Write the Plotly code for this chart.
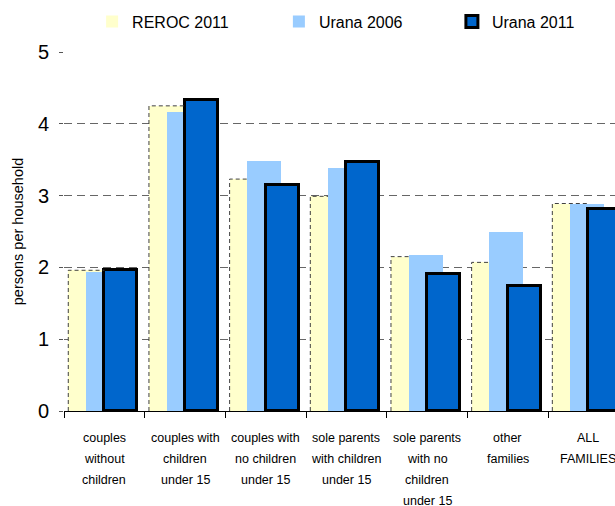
import plotly.graph_objects as go

categories = [
    "couples\nwithout\nchildren",
    "couples with\nchildren\nunder 15",
    "couples with\nno children\nunder 15",
    "sole parents\nwith children\nunder 15",
    "sole parents\nwith no\nchildren\nunder 15",
    "other\nfamilies",
    "ALL\nFAMILIES",
]
series_names = ["REROC 2011", "Urana 2006", "Urana 2011"]
reroc_2011 = [1.96, 4.25, 3.23, 2.99, 2.15, 2.07, 2.89]
urana_2006 = [1.93, 4.16, 3.48, 3.38, 2.17, 2.49, 2.88]
urana_2011 = [1.97, 4.33, 3.15, 3.47, 1.91, 1.74, 2.81]
y_ticks = [0, 1, 2, 3, 4, 5]

FONT = "Liberation Sans, Arial, sans-serif"
xs = list(range(len(categories)))

# bar geometry (category units)
OFF_Y, W_Y = -0.447, 0.43
OFF_B, W_B = -0.227, 0.42
OFF_D, W_D = 0.0, 0.41

fig = go.Figure()
fig.add_trace(go.Bar(
    x=xs, y=reroc_2011, name=series_names[0], offset=OFF_Y, width=W_Y,
    marker=dict(color="#FFFFCC", line=dict(width=0)), legend="legend",
))
fig.add_trace(go.Bar(
    x=xs, y=urana_2006, name=series_names[1], offset=OFF_B, width=W_B,
    marker=dict(color="#99CCFF", line=dict(width=0)), legend="legend2",
))
fig.add_trace(go.Bar(
    x=xs, y=urana_2011, name=series_names[2], offset=OFF_D, width=W_D,
    marker=dict(color="#0066CC", line=dict(color="#000000", width=3)), legend="legend3",
))

# dashed outline of the REROC bars (visible left & top edges)
ox, oy = [], []
for i, (r, b) in enumerate(zip(reroc_2011, urana_2006)):
    left = i + OFF_Y
    right = i + (OFF_B if b >= r else OFF_D)
    ox += [left, left, right, None]
    oy += [0, r, r, None]
fig.add_trace(go.Scatter(
    x=ox, y=oy, mode="lines", line=dict(color="#404040", width=1, dash="4px,3px"),
    showlegend=False, hoverinfo="skip", cliponaxis=True,
))

# category labels as multi-line annotations
annotations = []
for i, lab in enumerate(categories):
    for j, line in enumerate(lab.split("\n")):
        annotations.append(dict(
            x=i, y=0, xref="x", yref="paper", text=line, showarrow=False,
            yanchor="middle", xanchor="center", yshift=-(27 + 21 * j),
            font=dict(family=FONT, size=12.5, color="#000000"),
        ))

legend_style = dict(y=1.085, xanchor="left", yanchor="middle", orientation="h",
                    font=dict(size=16, family=FONT), bgcolor="rgba(0,0,0,0)")

fig.update_layout(
    width=615, height=506,
    margin=dict(l=64, r=0, t=52, b=95, pad=0),
    paper_bgcolor="white", plot_bgcolor="white",
    barmode="overlay", bargap=0,
    font=dict(family=FONT, color="#000000"),
    annotations=annotations,
    showlegend=True,
    legend=dict(x=0.051, **legend_style),
    legend2=dict(x=0.390, **legend_style),
    legend3=dict(x=0.704, **legend_style),
    xaxis=dict(
        range=[-0.5, 6.33], tickvals=xs, showticklabels=False, ticks="",
        showgrid=False, zeroline=False, showline=True, linecolor="#000000", linewidth=1,
        minor=dict(tick0=-0.5, dtick=1, ticks="outside", ticklen=6, tickcolor="#000000",
                   tickwidth=1, showgrid=False),
    ),
    yaxis=dict(
        range=[0, 5], tickvals=y_ticks, ticks="outside", ticklen=4, tickcolor="#555555",
        tickfont=dict(size=20, family=FONT), showline=False, zeroline=False,
        ticklabelstandoff=6,
        showgrid=True, gridcolor="#666666", griddash="8px,5px", gridwidth=1,
        title=dict(text="persons per household", font=dict(size=14.5, family=FONT), standoff=10),
    ),
)

fig.write_html("out.html")
